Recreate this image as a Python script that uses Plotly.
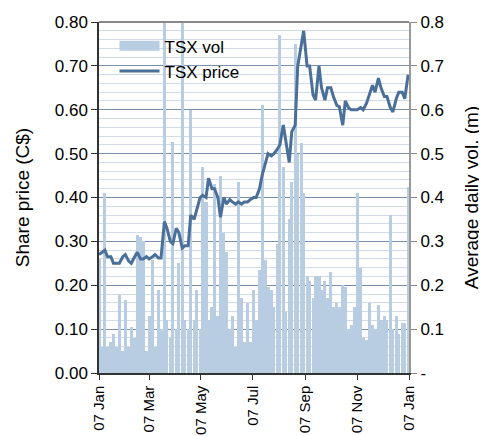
import pandas as pd
import plotly.graph_objects as go

# Observation dates: Mondays and Thursdays of 2007
mon = pd.date_range("2007-01-01", "2007-12-31", freq="W-MON")
thu = pd.date_range("2007-01-01", "2007-12-31", freq="W-THU")
dates = mon.union(thu)

tsx_vol = [
    0.26, 0.06, 0.41, 0.06, 0.07, 0.09, 0.06, 0.178, 0.05, 0.166,
    0.06, 0.105, 0.08, 0.315, 0.31, 0.30, 0.05, 0.13, 0.257, 0.06,
    0.19, 0.10, 0.85, 0.12, 0.08, 0.527, 0.10, 0.25, 0.85, 0.12,
    0.10, 0.60, 0.12, 0.19, 0.10, 0.47, 0.39, 0.12, 0.15, 0.43,
    0.13, 0.45, 0.32, 0.275, 0.10, 0.13, 0.06, 0.435, 0.17, 0.07,
    0.16, 0.07, 0.19, 0.12, 0.235, 0.61, 0.257, 0.196, 0.19, 0.15,
    0.295, 0.77, 0.47, 0.14, 0.35, 0.435, 0.75, 0.50, 0.525, 0.41,
    0.22, 0.21, 0.17, 0.22, 0.22, 0.19, 0.21, 0.17, 0.23, 0.15,
    0.16, 0.15, 0.20, 0.195, 0.10, 0.11, 0.15, 0.41, 0.24, 0.08,
    0.075, 0.16, 0.11, 0.10, 0.155, 0.12, 0.13, 0.12, 0.36, 0.10,
    0.13, 0.09, 0.115, 0.115, 0.425,
]

tsx_price = [
    0.27, 0.275, 0.28, 0.265, 0.265, 0.25, 0.25, 0.25, 0.265, 0.27,
    0.255, 0.25, 0.265, 0.275, 0.26, 0.26, 0.265, 0.26, 0.265, 0.27,
    0.262, 0.262, 0.345, 0.33, 0.30, 0.295, 0.33, 0.32, 0.285, 0.29,
    0.29, 0.36, 0.35, 0.37, 0.40, 0.405, 0.40, 0.444, 0.42, 0.42,
    0.40, 0.355, 0.40, 0.385, 0.395, 0.39, 0.385, 0.39, 0.385, 0.39,
    0.39, 0.395, 0.40, 0.40, 0.42, 0.45, 0.48, 0.50, 0.495, 0.50,
    0.51, 0.52, 0.565, 0.53, 0.48, 0.55, 0.565, 0.70, 0.745, 0.78,
    0.70, 0.70, 0.634, 0.622, 0.70, 0.65, 0.622, 0.65, 0.65, 0.63,
    0.61, 0.607, 0.565, 0.62, 0.604, 0.60, 0.60, 0.60, 0.605, 0.60,
    0.615, 0.635, 0.656, 0.64, 0.672, 0.65, 0.63, 0.63, 0.605, 0.595,
    0.625, 0.64, 0.64, 0.625, 0.68,
]

tick_dates = ["2007-01-01", "2007-03-01", "2007-05-01", "2007-07-01",
              "2007-09-01", "2007-11-01", "2008-01-01"]
tick_labels = ["07 Jan", "07 Mar", "07 May", "07 Jul", "07 Sep", "07 Nov", "07 Jan"]

price_ticks = [0.0, 0.1, 0.2, 0.3, 0.4, 0.5, 0.6, 0.7, 0.8]
price_labels = ["0.00", "0.10", "0.20", "0.30", "0.40", "0.50", "0.60", "0.70", "0.80"]
vol_labels = ["-", "0.1", "0.2", "0.3", "0.4", "0.5", "0.6", "0.7", "0.8"]

FONT = "Liberation Sans, Arial, sans-serif"
DAY_MS = 86400000
VOL_COLOR = "#b9cde2"
PRICE_COLOR = "#4a6f98"

fig = go.Figure()
fig.add_trace(go.Bar(
    x=dates, y=tsx_vol, name="TSX vol", yaxis="y",
    width=3.6 * DAY_MS, showlegend=False, legendgroup="vol",
    marker=dict(color=VOL_COLOR, line=dict(width=0)),
))
# legend-only entry giving the wide block swatch used by the original
fig.add_trace(go.Scatter(
    x=[None], y=[None], name="TSX vol", yaxis="y", mode="lines",
    legendgroup="vol", line=dict(color=VOL_COLOR, width=12),
))
fig.add_trace(go.Scatter(
    x=dates, y=tsx_price, name="TSX price", yaxis="y2", mode="lines",
    line=dict(color=PRICE_COLOR, width=3),
))

fig.update_layout(
    width=479, height=428,
    margin=dict(l=91, r=78, t=14, b=63),
    paper_bgcolor="white", plot_bgcolor="white",
    font=dict(family=FONT, size=17, color="#000000"),
    showlegend=True,
    legend=dict(x=0.05, y=0.982, xanchor="left", yanchor="top",
                bgcolor="rgba(0,0,0,0)", font=dict(size=17),
                tracegroupgap=0, itemwidth=40),
    bargap=0,
    xaxis=dict(
        type="date", range=["2007-01-01", "2008-01-01"], automargin=False,
        tickmode="array", tickvals=tick_dates, ticktext=tick_labels,
        tickangle=-90, ticks="outside", ticklen=5, tickcolor="#333333",
        tickfont=dict(size=15),
        showline=True, linecolor="#333333", linewidth=1.5,
        showgrid=False, zeroline=False,
    ),
    yaxis=dict(
        side="right", range=[0, 0.8], automargin=False,
        tickmode="array", tickvals=price_ticks, ticktext=vol_labels,
        ticks="outside", ticklen=6, tickcolor="#888888",
        showline=True, linecolor="#999999", linewidth=2,
        showgrid=False, zeroline=False,
        title=dict(text="Average daily vol. (m)", font=dict(size=19), standoff=22),
    ),
    yaxis2=dict(
        side="left", overlaying="y", range=[0, 0.8], automargin=False,
        tickmode="array", tickvals=price_ticks, ticktext=price_labels,
        ticks="outside", ticklen=6, tickcolor="#333333",
        showline=True, linecolor="#333333", linewidth=1.5,
        showgrid=True, gridcolor="#7890aa", gridwidth=1,
        minor=dict(dtick=0.02, tick0=0, showgrid=True, gridcolor="#d0dbe7", gridwidth=1),
        zeroline=False,
        title=dict(text="Share price (C$)", font=dict(size=19), standoff=20),
    ),
    shapes=[dict(type="line", xref="paper", yref="paper", x0=0, x1=1, y0=1, y1=1,
                 line=dict(color="#888888", width=2))],
)

fig.write_html("out.html")
